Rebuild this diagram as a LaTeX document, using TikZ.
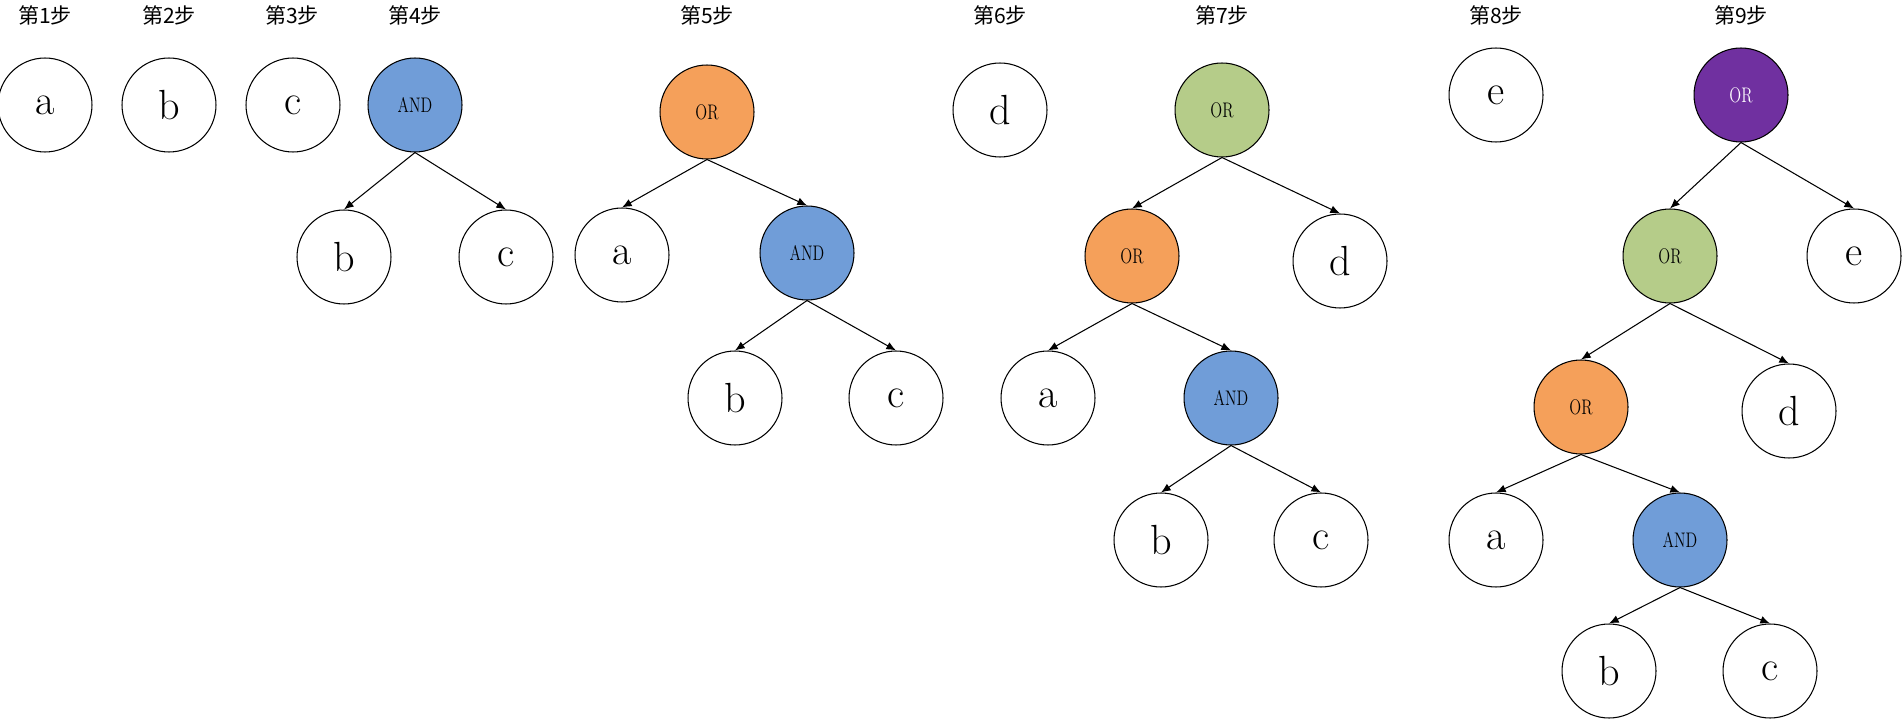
\documentclass[tikz,border=0pt]{standalone}
\usepackage{fontspec}
\usepackage{graphicx}
\usetikzlibrary{arrows.meta}
\newfontfamily\cjk{Noto Sans CJK SC}
\definecolor{andblue}{HTML}{709DD8}
\definecolor{ororange}{HTML}{F5A05A}
\definecolor{orgreen}{HTML}{B5CC89}
\definecolor{orpurple}{HTML}{7030A0}
\newcommand{\gatetext}[1]{\scalebox{0.74}[1]{#1}}

\begin{document}
\begin{tikzpicture}[x=0.02cm, y=-0.02cm,
	leaf/.style={circle, draw, line width=0.6pt, minimum size=1.88cm, inner sep=0pt, font=\fontsize{24}{28}\selectfont},
	gate/.style={leaf, font=\fontsize{12}{14}\selectfont},
	steplabel/.style={font=\cjk\fontsize{12}{14}\selectfont},
	link/.style={-{Latex[length=5.5pt, width=4.5pt]}, line width=0.6pt}]
	\useasboundingbox (0,0) rectangle (1902,719);

	% step labels
	\node[steplabel] (t1) at (45,15) {第1步};
	\node[steplabel] (t2) at (169,15) {第2步};
	\node[steplabel] (t3) at (292,15) {第3步};
	\node[steplabel] (t4) at (415,15) {第4步};
	\node[steplabel] (t5) at (707,15) {第5步};
	\node[steplabel] (t6) at (1000,15) {第6步};
	\node[steplabel] (t7) at (1222,15) {第7步};
	\node[steplabel] (t8) at (1496,15) {第8步};
	\node[steplabel] (t9) at (1741,15) {第9步};

	% steps 1-3
	\node[leaf] (a1) at (45,105) {a};
	\node[leaf] (b2) at (169,105) {b};
	\node[leaf] (c3) at (293,105) {c};

	% step 4
	\node[gate, fill=andblue] (and4) at (415,105) {\gatetext{AND}};
	\node[leaf] (b4) at (344,257) {b};
	\node[leaf] (c4) at (506,257) {c};

	\draw[link] (and4.south) -- (b4.north);
	\draw[link] (and4.south) -- (c4.north);

	% step 5
	\node[gate, fill=ororange] (or5) at (707,112) {\gatetext{OR}};
	\node[leaf] (a5) at (622,255) {a};
	\node[gate, fill=andblue] (and5) at (807,253) {\gatetext{AND}};
	\node[leaf] (b5) at (735,398) {b};
	\node[leaf] (c5) at (896,398) {c};

	\draw[link] (or5.south) -- (a5.north);
	\draw[link] (or5.south) -- (and5.north);
	\draw[link] (and5.south) -- (b5.north);
	\draw[link] (and5.south) -- (c5.north);

	% step 6
	\node[leaf] (d6) at (1000,110) {d};

	% step 7
	\node[gate, fill=orgreen] (or7) at (1222,110) {\gatetext{OR}};
	\node[gate, fill=ororange] (orb7) at (1132,256) {\gatetext{OR}};
	\node[leaf] (d7) at (1340,261) {d};
	\node[leaf] (a7) at (1048,398) {a};
	\node[gate, fill=andblue] (and7) at (1231,398) {\gatetext{AND}};
	\node[leaf] (b7) at (1161,540) {b};
	\node[leaf] (c7) at (1321,540) {c};

	\draw[link] (or7.south) -- (orb7.north);
	\draw[link] (or7.south) -- (d7.north);
	\draw[link] (orb7.south) -- (a7.north);
	\draw[link] (orb7.south) -- (and7.north);
	\draw[link] (and7.south) -- (b7.north);
	\draw[link] (and7.south) -- (c7.north);

	% step 8
	\node[leaf] (e8) at (1496,95) {e};

	% step 9
	\node[gate, fill=orpurple, text=white] (or9) at (1741,95) {\gatetext{OR}};
	\node[gate, fill=orgreen] (orb9) at (1670,256) {\gatetext{OR}};
	\node[leaf] (e9) at (1854,256) {e};
	\node[gate, fill=ororange] (orc9) at (1581,407) {\gatetext{OR}};
	\node[leaf] (d9) at (1789,411) {d};
	\node[leaf] (a9) at (1496,540) {a};
	\node[gate, fill=andblue] (and9) at (1680,540) {\gatetext{AND}};
	\node[leaf] (b9) at (1609,671) {b};
	\node[leaf] (c9) at (1770,671) {c};

	\draw[link] (or9.south) -- (orb9.north);
	\draw[link] (or9.south) -- (e9.north);
	\draw[link] (orb9.south) -- (orc9.north);
	\draw[link] (orb9.south) -- (d9.north);
	\draw[link] (orc9.south) -- (a9.north);
	\draw[link] (orc9.south) -- (and9.north);
	\draw[link] (and9.south) -- (b9.north);
	\draw[link] (and9.south) -- (c9.north);

\end{tikzpicture}
\end{document}
